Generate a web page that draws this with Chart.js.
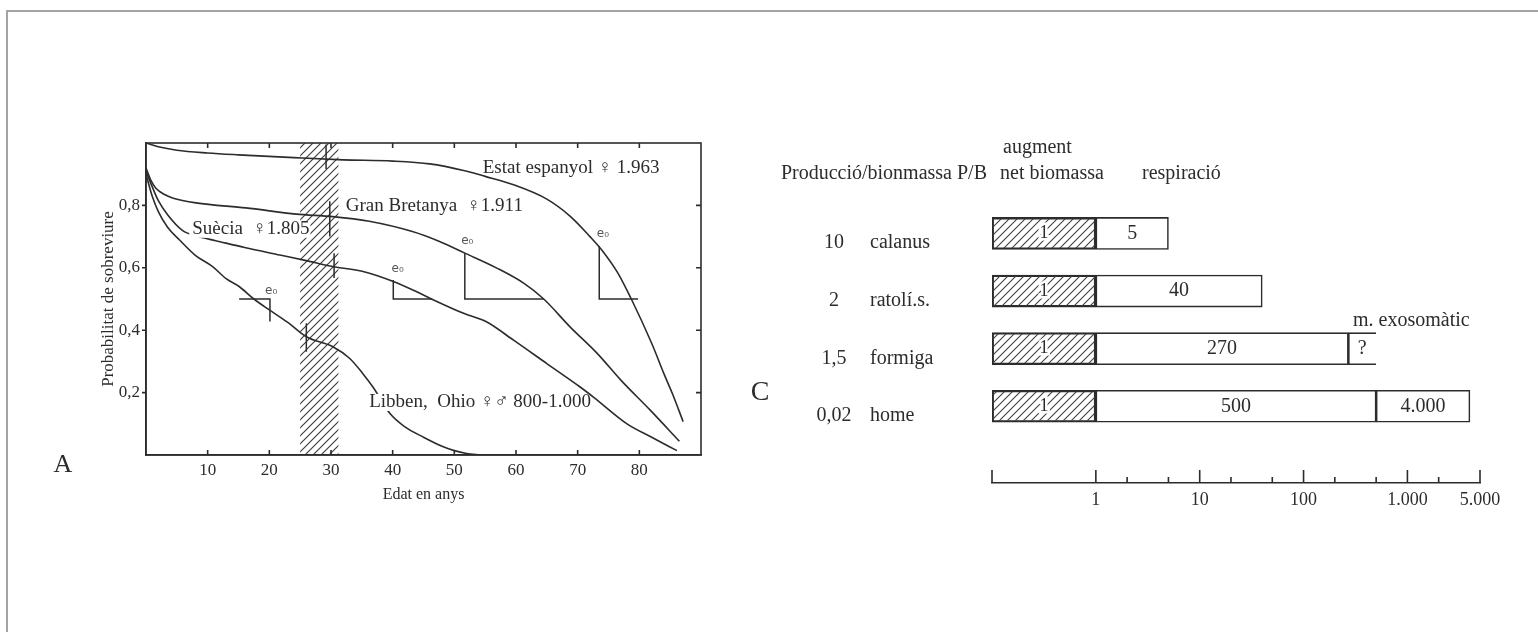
<!DOCTYPE html>
<html>
<head>
<meta charset="utf-8">
<title>Corbes de supervivència i producció/biomassa</title>
<script src="https://cdn.jsdelivr.net/npm/chart.js@4.4.1/dist/chart.umd.min.js"></script>
<style>
    html, body { margin: 0; padding: 0; background: #fff; }
    body { width: 1538px; height: 641px; position: relative; overflow: hidden; }
    #frame { position: absolute; left: 6px; top: 10px; width: 1540px; height: 620px;
             border-top: 2px solid #a4a4a4; border-left: 2px solid #a4a4a4; }
    #survivalWrap { position: absolute; left: 0; top: 0; }
    #energyWrap { position: absolute; left: 700px; top: 120px; }
</style>
</head>
<body>
<div id="frame"></div>
<div id="survivalWrap"><canvas id="survivalChart" width="720" height="520"></canvas></div>
<div id="energyWrap"><canvas id="energyChart" width="838" height="420"></canvas></div>

<script>
/* ---------- Panel A: survival curves, [age, probability] ---------- */
const ageTicks = [10, 20, 30, 40, 50, 60, 70, 80];
const survivalTicks = [0.2, 0.4, 0.6, 0.8];
const hatchBand = [25, 31.2];

const estatEspanyol = [[0, 1.0], [2, 0.988], [5, 0.977], [10, 0.968], [15, 0.962], [24, 0.953],
    [32, 0.946], [40, 0.942], [46, 0.933], [51.5, 0.912], [55, 0.893], [59.6, 0.866], [65, 0.82],
    [68.8, 0.765], [72, 0.70], [74, 0.655], [76.5, 0.584], [78.7, 0.5], [82, 0.358], [84, 0.26],
    [85.5, 0.19], [87.1, 0.107]];
const granBretanya = [[0, 0.92], [0.8, 0.88], [1.6, 0.855], [3, 0.835], [4.3, 0.824], [8.1, 0.808],
    [16.2, 0.792], [24.4, 0.772], [30.3, 0.764], [36.2, 0.749], [43.2, 0.716], [47.5, 0.685],
    [51.7, 0.647], [56.9, 0.599], [61.3, 0.55], [64.5, 0.5], [68.8, 0.41], [73.2, 0.325],
    [77, 0.24], [81.8, 0.143], [86.5, 0.044]];
const suecia = [[0, 0.91], [1, 0.86], [2, 0.815], [3.5, 0.77], [5.9, 0.72], [8.5, 0.70],
    [11.3, 0.687], [16, 0.665], [21.7, 0.641], [26, 0.623], [30.3, 0.604], [35.2, 0.588],
    [40.1, 0.556], [43.9, 0.523], [46.3, 0.5], [51.5, 0.454], [55.2, 0.427], [59.6, 0.368],
    [65, 0.293], [70.4, 0.218], [72.6, 0.185], [78, 0.10], [82, 0.057], [86.1, 0.014]];
const libben = [[0, 0.9], [1, 0.83], [2, 0.78], [3.5, 0.73], [5.4, 0.69], [8, 0.64], [10.8, 0.604],
    [13, 0.565], [15.1, 0.54], [17.5, 0.5], [20, 0.465], [23, 0.425], [26, 0.379], [30.3, 0.347],
    [33, 0.31], [35.2, 0.26], [36.8, 0.218], [39.6, 0.132], [42, 0.09], [45, 0.057], [48, 0.028],
    [50, 0.014], [52, 0.005], [54.2, 0]];

// life expectancy (e0) brackets
const estatE0 = [[73.5, 0.67], [73.5, 0.5], [79.8, 0.5]];
const granBretanyaE0 = [[51.7, 0.647], [51.7, 0.5], [64.5, 0.5]];
const sueciaE0 = [[40.1, 0.561], [40.1, 0.5], [46.4, 0.5]];
const libbenE0 = [[15.1, 0.5], [20.1, 0.5], [20.1, 0.428]];

// short vertical marks across each curve
const estatMark = [[29.2, 0.995], [29.2, 0.917]];
const granBretanyaMark = [[29.8, 0.813], [29.8, 0.70]];
const sueciaMark = [[30.5, 0.647], [30.5, 0.567]];
const libbenMark = [[26, 0.422], [26, 0.331]];

/* ---------- Panel C: production / biomass, log scale ---------- */
const species = ['calanus', 'ratolí.s.', 'formiga', 'home'];
const pbRatio = ['10', '2', '1,5', '0,02'];
const netGrowth = [1, 1, 1, 1];
const respiration = [5, 40, 270, 500];
const exosomatic = [null, null, 500, 4000];
const exoLabels = ['', '', '?', '4.000'];
const logStart = 0.1;
const axisValues = [1, 10, 100, 1000, 5000];
const axisLabels = ['1', '10', '100', '1.000', '5.000'];
const majorTicks = [0.1, 1, 10, 100, 1000, 5000];
const minorTicks = [2, 5, 20, 50, 200, 500, 2000];

const INK = '#2c2c2c';
const SERIF = "'Liberation Serif', 'DejaVu Serif', serif";

// diagonal "////" hatching
function makeHatch(step, width) {
    const c = document.createElement('canvas');
    c.width = step;
    c.height = step;
    const g = c.getContext('2d');
    g.strokeStyle = '#404040';
    g.lineWidth = width;
    g.beginPath();
    g.moveTo(-1, step + 1); g.lineTo(step + 1, -1);
    g.moveTo(-step / 2 - 1, step / 2 + 1); g.lineTo(step / 2 + 1, -step / 2 - 1);
    g.moveTo(step / 2 - 1, step * 1.5 + 1); g.lineTo(step * 1.5 + 1, step / 2 - 1);
    g.stroke();
    return g.createPattern(c, 'repeat');
}

function curve(data) {
    return { data: data, borderColor: INK, borderWidth: 1.6, pointRadius: 0,
             fill: false, cubicInterpolationMode: 'monotone' };
}
function mark(data) {
    return { data: data, borderColor: INK, borderWidth: 1.5, pointRadius: 0, fill: false, tension: 0 };
}

const curveLabels = [
    { text: 'Estat espanyol ♀ 1.963', age: 54.6, p: 0.921, mask: 0 },
    { text: 'Gran Bretanya  ♀1.911', age: 32.4, p: 0.799, mask: 0 },
    { text: 'Suècia  ♀1.805', age: 7.5, p: 0.725, mask: 1 },
    { text: 'Libben,  Ohio ♀♂ 800-1.000', age: 36.2, p: 0.170, mask: 0.3 }
];
const e0Labels = [
    { age: 20.3, p: 0.527 }, { age: 40.8, p: 0.596 }, { age: 52.1, p: 0.686 }, { age: 74.1, p: 0.709 }
];

const survivalDecor = {
    id: 'survivalDecor',
    beforeDatasetsDraw(chart) {
        const { ctx, chartArea: a, scales: { x } } = chart;
        const x0 = x.getPixelForValue(hatchBand[0]);
        const x1 = x.getPixelForValue(hatchBand[1]);
        ctx.save();
        ctx.fillStyle = makeHatch(8, 1.2);
        ctx.fillRect(x0, a.top, x1 - x0, a.bottom - a.top);
        ctx.restore();
    },
    afterDatasetsDraw(chart) {
        const { ctx, chartArea: a, scales: { x, y } } = chart;
        ctx.save();
        ctx.strokeStyle = INK;
        ctx.lineWidth = 1.6;
        ctx.strokeRect(a.left, a.top, a.right - a.left, a.bottom - a.top);

        ctx.beginPath();
        ageTicks.forEach(v => {
            const px = x.getPixelForValue(v);
            ctx.moveTo(px, a.bottom); ctx.lineTo(px, a.bottom - 5);
            ctx.moveTo(px, a.top); ctx.lineTo(px, a.top + 5);
        });
        survivalTicks.forEach(v => {
            const py = y.getPixelForValue(v);
            ctx.moveTo(a.left - 4, py); ctx.lineTo(a.left, py);
            ctx.moveTo(a.right, py); ctx.lineTo(a.right - 5, py);
        });
        ctx.stroke();

        // curve names
        ctx.font = '19px ' + SERIF;
        ctx.textBaseline = 'middle';
        ctx.textAlign = 'left';
        curveLabels.forEach(l => {
            const px = x.getPixelForValue(l.age);
            const py = y.getPixelForValue(l.p);
            const w = ctx.measureText(l.text).width;
            if (l.mask) {
                ctx.fillStyle = '#fff';
                ctx.fillRect(px - 3, py - 8, w * l.mask + 4, 17);
            }
            ctx.fillStyle = INK;
            ctx.fillText(l.text, px, py);
        });

        // e0 marks
        ctx.font = '12px "DejaVu Sans", sans-serif';
        ctx.fillStyle = '#555';
        ctx.textAlign = 'center';
        e0Labels.forEach(l => {
            ctx.fillText('e₀', x.getPixelForValue(l.age), y.getPixelForValue(l.p));
        });

        // panel letter
        ctx.font = '26px ' + SERIF;
        ctx.fillStyle = INK;
        ctx.fillText('A', 63, 465);
        ctx.restore();
    }
};

const survivalChart = new Chart(document.getElementById('survivalChart'), {
    type: 'line',
    data: {
        datasets: [
            curve(estatEspanyol), curve(granBretanya), curve(suecia), curve(libben),
            mark(estatE0), mark(granBretanyaE0), mark(sueciaE0), mark(libbenE0),
            mark(estatMark), mark(granBretanyaMark), mark(sueciaMark), mark(libbenMark)
        ]
    },
    options: {
        responsive: false,
        animation: false,
        events: [],
        layout: { padding: { left: 94, top: 143, right: 19, bottom: 12 } },
        plugins: { legend: { display: false }, tooltip: { enabled: false } },
        scales: {
            x: {
                type: 'linear', min: 0, max: 90,
                grid: { display: false, drawTicks: false },
                border: { display: true, color: INK, width: 1.6 },
                afterBuildTicks: s => { s.ticks = ageTicks.map(v => ({ value: v })); },
                afterFit: s => { s.height = 53; },
                ticks: { color: INK, padding: 5, maxRotation: 0, autoSkip: false,
                         font: { family: SERIF, size: 17 } },
                title: { display: true, text: 'Edat en anys', color: INK,
                         font: { family: SERIF, size: 16 }, padding: { top: 0, bottom: 4 } }
            },
            y: {
                type: 'linear', min: 0, max: 1,
                grid: { display: false, drawTicks: false },
                border: { display: true, color: INK, width: 1.6 },
                afterBuildTicks: s => { s.ticks = survivalTicks.map(v => ({ value: v })); },
                afterFit: s => { s.width = 52; },
                ticks: { color: INK, padding: 6, font: { family: SERIF, size: 17 },
                         callback: v => v.toFixed(1).replace('.', ',') },
                title: { display: true, text: 'Probabilitat de sobreviure', color: INK,
                         font: { family: SERIF, size: 17 }, padding: { top: 4, bottom: 0 } }
            }
        }
    },
    plugins: [survivalDecor]
});

/* ---------- Panel C chart ---------- */
const barHatch = makeHatch(8, 1.1);
const rows = species.map((s, i) => i + 1);

const energyDecor = {
    id: 'energyDecor',
    afterDatasetsDraw(chart) {
        const { ctx, chartArea: a, scales: { x, y } } = chart;
        ctx.save();
        ctx.strokeStyle = INK;
        ctx.lineWidth = 1.6;
        ctx.beginPath();
        majorTicks.forEach(v => {
            const px = x.getPixelForValue(v);
            ctx.moveTo(px, a.bottom); ctx.lineTo(px, a.bottom - 13);
        });
        minorTicks.forEach(v => {
            const px = x.getPixelForValue(v);
            ctx.moveTo(px, a.bottom); ctx.lineTo(px, a.bottom - 6);
        });
        ctx.stroke();

        ctx.textBaseline = 'middle';
        ctx.textAlign = 'center';
        rows.forEach((r, i) => {
            const py = y.getPixelForValue(r);
            // "1" inside hatched part, with a white halo
            ctx.font = '18px ' + SERIF;
            const hx = x.getPixelForValue(Math.sqrt(logStart * netGrowth[i]));
            ctx.lineWidth = 5;
            ctx.strokeStyle = '#fff';
            ctx.strokeText(String(netGrowth[i]), hx, py);
            ctx.fillStyle = INK;
            ctx.fillText(String(netGrowth[i]), hx, py);

            ctx.font = '20px ' + SERIF;
            const rx = x.getPixelForValue(Math.sqrt(netGrowth[i] * respiration[i]));
            ctx.fillText(String(respiration[i]), rx, py);
            if (exosomatic[i]) {
                const ex = x.getPixelForValue(Math.sqrt(respiration[i] * exosomatic[i]));
                ctx.fillText(exoLabels[i], ex, py);
            }

            // row labels
            ctx.textBaseline = 'alphabetic';
            ctx.fillText(pbRatio[i], 134, py + 15);
            ctx.textAlign = 'left';
            ctx.fillText(species[i], 170, py + 15);
            ctx.textAlign = 'center';
            ctx.textBaseline = 'middle';
        });

        // column headers
        ctx.font = '20px ' + SERIF;
        ctx.textBaseline = 'alphabetic';
        ctx.textAlign = 'right';
        ctx.fillText('Producció/bionmassa P/B', 287, 59);
        ctx.textAlign = 'left';
        ctx.fillText('augment', 303, 33);
        ctx.fillText('net biomassa', 300, 59);
        ctx.fillText('respiració', 442, 59);
        ctx.fillText('m. exosomàtic', 653, 206);

        ctx.font = '28px ' + SERIF;
        ctx.textAlign = 'center';
        ctx.textBaseline = 'middle';
        ctx.fillText('C', 60, 273);
        ctx.restore();
    }
};

const energyChart = new Chart(document.getElementById('energyChart'), {
    type: 'bar',
    data: {
        datasets: [
            {
                label: 'augment net biomassa',
                data: rows.map((r, i) => ({ y: r, x: [logStart, netGrowth[i]] })),
                backgroundColor: barHatch, borderColor: INK, borderWidth: 1.6, borderSkipped: false
            },
            {
                label: 'respiració',
                data: rows.map((r, i) => ({ y: r, x: [netGrowth[i], respiration[i]] })),
                backgroundColor: '#fff', borderColor: INK, borderWidth: 1.6, borderSkipped: false
            },
            {
                label: 'm. exosomàtic',
                data: rows.filter((r, i) => exosomatic[i]).map(r => ({ y: r, x: [respiration[r - 1], exosomatic[r - 1]] })),
                backgroundColor: '#fff', borderColor: INK, borderWidth: 1.6,
                // the ant's exosomatic segment is left open on the right
                borderSkipped: rows.filter((r, i) => exosomatic[i]).map(r => exoLabels[r - 1] === '?' ? 'right' : false)
            }
        ]
    },
    options: {
        indexAxis: 'y',
        responsive: false,
        animation: false,
        events: [],
        grouped: false,
        barThickness: 32,
        layout: { padding: { left: 292, top: 70, right: 58, bottom: 0 } },
        plugins: { legend: { display: false }, tooltip: { enabled: false } },
        scales: {
            x: {
                type: 'logarithmic', min: logStart, max: 5000,
                grid: { display: false, drawTicks: false },
                border: { display: true, color: INK, width: 1.6 },
                afterBuildTicks: s => { s.ticks = axisValues.map(v => ({ value: v })); },
                afterFit: s => { s.height = 57; },
                ticks: { color: INK, padding: 6, maxRotation: 0, autoSkip: false,
                         font: { family: SERIF, size: 18 },
                         callback: v => axisLabels[axisValues.indexOf(v)] }
            },
            y: {
                type: 'linear', min: 0.5, max: 5.078, reverse: true, display: false
            }
        }
    },
    plugins: [energyDecor]
});
</script>
</body>
</html>
